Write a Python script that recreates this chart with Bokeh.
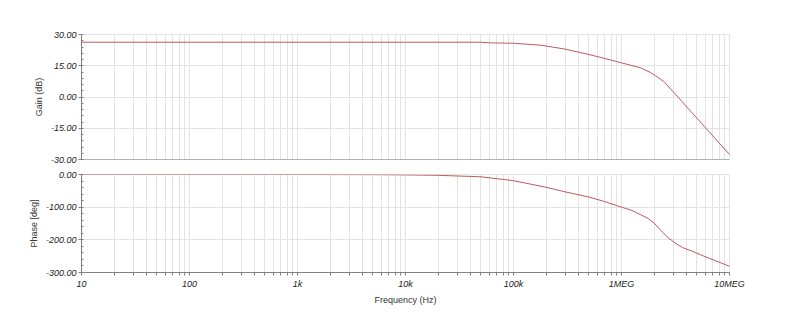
from bokeh.plotting import figure
from bokeh.layouts import column
from bokeh.models import (Range1d, FixedTicker, SingleIntervalTicker, PrintfTickFormatter,
                          CustomJSTickFormatter, Span)
from bokeh.embed import file_html
from bokeh.resources import INLINE

# ---- data ----
gain_freq = [10, 1e3, 1e4, 5e4, 6e4, 1e5, 1.77e5, 3e5, 5e5, 7e5, 1e6, 1.5e6, 1.8e6, 2.07e6, 2.47e6, 3.2e6, 5e6, 1e7]
gain_db = [26.3, 26.3, 26.3, 26.3, 26.0, 25.8, 24.9, 23.0, 20.4, 18.5, 16.4, 14.0, 12.1, 10.2, 7.4, 1.0, -10.2, -27.6]

phase_freq = [10, 1e3, 5e3, 1e4, 2e4, 5e4, 1e5, 2e5, 3e5, 5e5, 7e5, 1e6, 1.25e6, 1.5e6, 1.75e6, 2e6, 2.4e6, 2.7e6, 3e6, 3.4e6, 3.8e6, 4.3e6, 5.8e6, 1e7]
phase_deg = [0, 0, -0.5, -1.2, -2.5, -7, -19, -39, -53, -69, -83, -100, -110, -123, -134, -148, -177, -193, -205, -217, -226, -232, -250, -281]

x_major = [10, 100, 1e3, 1e4, 1e5, 1e6, 1e7]
x_labels = ["10", "100", "1k", "10k", "100k", "1MEG", "10MEG"]
x_minor = [d * m for d in x_major[:-1] for m in range(2, 10)]

gain_range = (-30, 30)
phase_range = (-300, 0)

CURVE = "#bf5a5f"
AXIS = "#808080"
GRID = "#e3e3e3"
FONT = "Liberation Sans"


def style(p, ylabel, yint):
    p.outline_line_color = GRID
    p.xgrid.ticker = FixedTicker(ticks=x_major, minor_ticks=x_minor)
    p.xgrid.grid_line_color = GRID
    p.xgrid.minor_grid_line_color = GRID
    p.ygrid.grid_line_color = GRID
    yax = p.yaxis[0]
    yax.ticker = SingleIntervalTicker(interval=yint, num_minor_ticks=5)
    yax.formatter = PrintfTickFormatter(format="%.2f")
    yax.axis_label = ylabel
    yax.axis_label_text_font = FONT
    yax.axis_label_text_font_style = "normal"
    yax.axis_label_text_font_size = "9px"
    yax.axis_label_text_color = "#333333"
    yax.axis_label_standoff = 4
    yax.major_label_text_font = FONT
    yax.major_label_text_font_style = "italic"
    yax.major_label_text_font_size = "9px"
    yax.major_label_text_color = "#222222"
    yax.major_label_standoff = 2
    yax.axis_line_color = AXIS
    yax.major_tick_line_color = AXIS
    yax.minor_tick_line_color = AXIS
    yax.major_tick_out = 3
    yax.major_tick_in = 0
    yax.minor_tick_out = 0
    yax.minor_tick_in = 2


p1 = figure(width=791, height=167, x_axis_type="log", output_backend="svg", toolbar_location=None,
            x_range=Range1d(x_major[0], x_major[-1]), y_range=Range1d(*gain_range),
            min_border_left=81, min_border_right=62, min_border_top=34, min_border_bottom=8)
style(p1, "Gain (dB)", 15)
p1.xaxis.visible = False
p1.add_layout(Span(location=gain_range[0], dimension="width", line_color=AXIS, line_width=1))
p1.line(gain_freq, gain_db, line_color=CURVE, line_width=1)

p2 = figure(width=791, height=140, x_axis_type="log", output_backend="svg", toolbar_location=None,
            x_range=p1.x_range, y_range=Range1d(*phase_range),
            min_border_left=81, min_border_right=62, min_border_top=7, min_border_bottom=35)
style(p2, "Phase [deg]", 100)
xax = p2.xaxis[0]
xax.ticker = FixedTicker(ticks=x_major, minor_ticks=x_minor)
xax.formatter = CustomJSTickFormatter(args=dict(labels=x_labels),
                                      code="return labels[Math.round(Math.log10(tick)) - 1];")
xax.axis_label = "Frequency (Hz)"
xax.axis_label_text_font = FONT
xax.axis_label_text_font_style = "normal"
xax.axis_label_text_font_size = "9px"
xax.axis_label_text_color = "#333333"
xax.axis_label_standoff = 3
xax.major_label_text_font = FONT
xax.major_label_text_font_style = "italic"
xax.major_label_text_font_size = "9px"
xax.major_label_text_color = "#222222"
xax.major_label_standoff = 3
xax.axis_line_color = AXIS
xax.major_tick_line_color = AXIS
xax.minor_tick_line_color = AXIS
xax.major_tick_out = 3
xax.major_tick_in = 0
xax.minor_tick_out = 3
xax.minor_tick_in = 0
p2.line(phase_freq, phase_deg, line_color=CURVE, line_width=1)

layout = column(p1, p2, spacing=0)
open("out.html", "w").write(file_html(layout, INLINE))
